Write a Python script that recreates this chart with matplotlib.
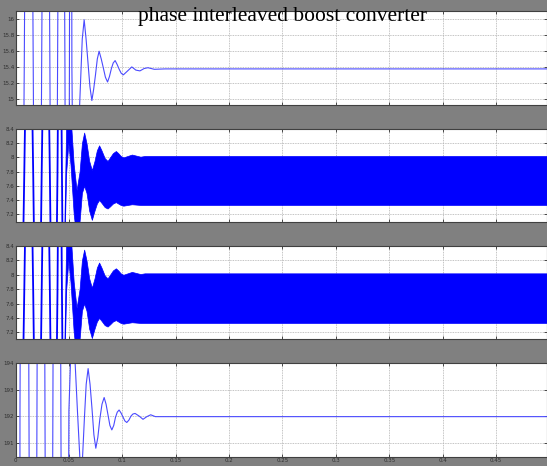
import numpy as np
import matplotlib
matplotlib.use('Agg')
from matplotlib import pyplot as plt

# panel 1 - damped waveform around 15.37 (startup swings go off scale)
t1 = [0.0, 0.0082, 0.0124, 0.0166, 0.0206, 0.0245, 0.0284, 0.0322, 0.0358, 0.0394,
      0.0428, 0.0463, 0.0484, 0.0505, 0.0517, 0.0528, 0.0565, 0.0600, 0.0625, 0.0643,
      0.0661, 0.0679, 0.0697, 0.0715, 0.0732, 0.0749, 0.0766, 0.0783, 0.0803, 0.0822,
      0.0842, 0.0862, 0.0880, 0.0898, 0.0915, 0.0933, 0.0952, 0.0971, 0.0990, 0.1010,
      0.1050, 0.1089, 0.1127, 0.1165, 0.1205, 0.1240, 0.1300, 0.1400, 0.5]
v1 = [0.0, 15.4, 25.0, 15.4, 6.0, 15.4, 25.0, 15.4, 6.0, 15.4,
      25.0, 15.4, 6.0, 15.4, 25.0, 15.4, 10.0, 14.9, 15.75, 15.995,
      15.75, 15.45, 15.15, 14.976, 15.12, 15.30, 15.50, 15.598, 15.50, 15.39,
      15.27, 15.21, 15.28, 15.38, 15.45, 15.48, 15.43, 15.37, 15.32, 15.30,
      15.35, 15.40, 15.36, 15.35, 15.38, 15.39, 15.37, 15.375, 15.375]

# panels 2 and 3 - startup swings, then ripple band (upper / lower edge)
t_start = [0.0, 0.0082, 0.0124, 0.0166, 0.0206, 0.0245, 0.0284, 0.0322, 0.0358,
           0.0393, 0.0414, 0.0435, 0.0445]
i_start = [0.0, 7.75, 12.0, 7.75, 3.0, 7.75, 12.0, 7.75, 3.0,
           7.75, 12.0, 7.75, 6.0]
t_band = [0.0445, 0.0475, 0.0495, 0.0515, 0.0545, 0.0572, 0.0600, 0.0622, 0.0643,
          0.0665, 0.0690, 0.0715, 0.0740, 0.0762, 0.0783, 0.0805, 0.0835, 0.0862,
          0.0885, 0.0912, 0.0940, 0.0962, 0.0985, 0.1010, 0.1050, 0.1090, 0.1130,
          0.1170, 0.1210, 0.1300, 0.5]
i_upper = [6.0, 8.5, 8.9, 8.6, 7.9, 7.54, 7.8, 8.2, 8.35,
           8.2, 7.95, 7.82, 7.95, 8.1, 8.17, 8.1, 7.99, 7.95,
           8.0, 8.06, 8.09, 8.06, 8.02, 8.0, 8.02, 8.04, 8.025,
           8.01, 8.02, 8.02, 8.02]
i_lower = [6.0, 7.8, 8.2, 7.9, 7.2, 6.84, 7.1, 7.5, 7.6,
           7.5, 7.25, 7.12, 7.25, 7.35, 7.40, 7.36, 7.30, 7.28,
           7.31, 7.35, 7.37, 7.35, 7.33, 7.32, 7.33, 7.34, 7.335,
           7.33, 7.33, 7.33, 7.33]

# panel 4 - output voltage around 192
t4 = [0.0, 0.0042, 0.0084, 0.0126, 0.0164, 0.0201, 0.0238, 0.0276, 0.0313, 0.0350,
      0.0388, 0.0425, 0.0462, 0.0500, 0.0535, 0.0556, 0.0580, 0.0603, 0.0617, 0.0628,
      0.0645, 0.0662, 0.0680, 0.0698, 0.0716, 0.0734, 0.0752, 0.0771, 0.0790, 0.0810,
      0.0830, 0.0848, 0.0866, 0.0884, 0.0902, 0.0920, 0.0936, 0.0953, 0.0970, 0.0988,
      0.1006, 0.1024, 0.1042, 0.1062, 0.1081, 0.1100, 0.1120, 0.1158, 0.1194, 0.1230,
      0.1266, 0.1310, 0.1400, 0.5]
v4 = [0.0, 192.2, 240.0, 192.2, 150.0, 192.2, 240.0, 192.2, 150.0, 192.2,
      240.0, 192.2, 150.0, 192.2, 196.5, 194.2, 192.2, 190.4, 189.8, 190.46,
      191.9, 193.2, 193.79, 193.2, 192.3, 191.3, 190.79, 191.2, 191.9, 192.45,
      192.70, 192.45, 192.05, 191.65, 191.48, 191.65, 191.95, 192.15, 192.23, 192.12,
      191.97, 191.82, 191.76, 191.85, 192.0, 192.08, 192.10, 192.0, 191.88, 191.98,
      192.05, 191.98, 191.98, 191.98]

xticks = [0, 0.05, 0.1, 0.15, 0.2, 0.25, 0.3, 0.35, 0.4, 0.45]
xtick_labels = ['0', '0.05', '0.1', '0.15', '0.2', '0.25', '0.3', '0.35', '0.4', '0.45']
yticks1 = [15, 15.2, 15.4, 15.6, 15.8, 16]
yticks2 = [7.2, 7.4, 7.6, 7.8, 8, 8.2, 8.4]
yticks4 = [191, 192, 193, 194]

W, H = 547, 466
fig = plt.figure(figsize=(W / 100, H / 100), dpi=100, facecolor='#808080')

def panel(top, bottom):
    ax = fig.add_axes([15.5 / W, (H - bottom) / H, (W - 15.5) / W, (bottom - top) / H])
    ax.set_xlim(0.001, 0.4977)
    ax.set_xticks(xticks)
    ax.set_axisbelow(True)
    ax.grid(True, color='#b0b0b0', linestyle=(0, (1, 1)), linewidth=0.6)
    ax.tick_params(direction='in', length=2.5, width=0.6, labelsize=4, pad=1,
                   colors='#303030', right=True, top=True)
    for s in ax.spines.values():
        s.set_color('#404040')
        s.set_linewidth(0.8)
    return ax

ax1 = panel(11, 105)
ax1.plot(t1, v1, color='#4a4aff', lw=0.8)
ax1.set_ylim(14.92, 16.105)
ax1.set_yticks(yticks1)
ax1.set_yticklabels(['%g' % y for y in yticks1])
ax1.set_xticklabels([])

for top, bottom, lo in [(129, 222, 7.09), (246, 339, 7.107)]:
    ax = panel(top, bottom)
    ax.plot(t_start, i_start, color='blue', lw=1.3)
    ax.fill_between(t_band, i_lower, i_upper, color='blue', lw=0.5, edgecolor='blue')
    ax.set_ylim(lo, 8.4)
    ax.set_yticks(yticks2)
    ax.set_yticklabels(['%g' % y for y in yticks2])
    ax.set_xticklabels([])

ax4 = panel(363, 457)
ax4.plot(t4, v4, color='#4a4aff', lw=0.8)
ax4.set_ylim(190.46, 194.0)
ax4.set_yticks(yticks4)
ax4.set_yticklabels(['%g' % y for y in yticks4])
ax4.set_xticklabels(xtick_labels)

fig.text(282 / W, (H - 21) / H, 'phase interleaved boost converter',
         ha='center', va='baseline', family='Liberation Serif', fontsize=15.5)

fig.savefig('out.png', dpi=100, facecolor=fig.get_facecolor())
